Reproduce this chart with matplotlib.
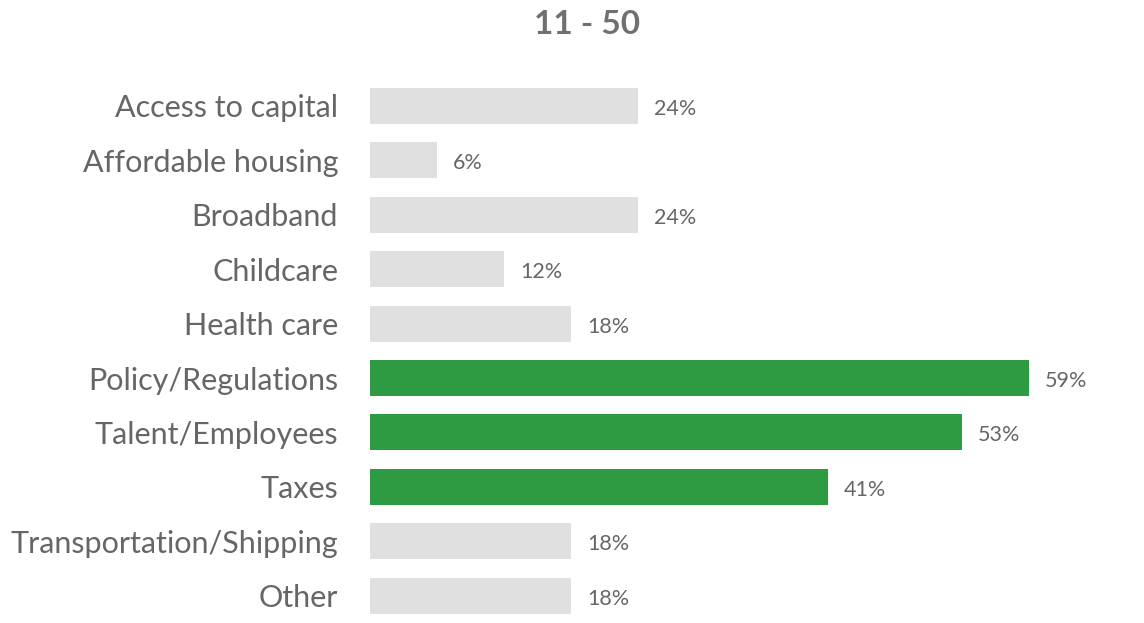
import matplotlib
matplotlib.use("Agg")
import matplotlib.pyplot as plt

plt.rcParams['font.family'] = ['Lato', 'DejaVu Sans']

# Share of respondents (%), companies with 11 - 50 employees
categories = [
    "Access to capital",
    "Affordable housing",
    "Broadband",
    "Childcare",
    "Health care",
    "Policy/Regulations",
    "Talent/Employees",
    "Taxes",
    "Transportation/Shipping",
    "Other",
]
values = [24, 6, 24, 12, 18, 59, 53, 41, 18, 18]
highlight = ["Policy/Regulations", "Talent/Employees", "Taxes"]

GREY_BAR = "#e0e0e0"
GREEN = "#2e9b43"
TEXT = "#666666"

fig = plt.figure(figsize=(11.44, 6.23), dpi=100)
ax = fig.add_axes([370 / 1144, 0, 726 / 1144, 544.4 / 623])

colors = [GREEN if c in highlight else GREY_BAR for c in categories]
ypos = range(len(categories))
ax.barh(ypos, values, height=0.66, color=colors)

ax.set_xlim(0, 65)
ax.set_ylim(len(categories) - 0.5, -0.5)
ax.set_yticks(list(ypos))
ax.set_yticklabels(categories, fontsize=22, color=TEXT)
ax.tick_params(axis='y', length=0, pad=23)
ax.set_xticks([])
for s in ax.spines.values():
    s.set_visible(False)

for y, v in zip(ypos, values):
    ax.annotate(f"{v}%", xy=(v, y), xytext=(16, -3), textcoords="offset pixels",
                va="center", ha="left", fontsize=15.5, color=TEXT)

fig.text(587 / 1144, 1 - 25 / 623, "11 - 50", ha="center", va="center",
         fontsize=24, fontweight="bold", color="#707070")

fig.savefig("out.png", dpi=100)
